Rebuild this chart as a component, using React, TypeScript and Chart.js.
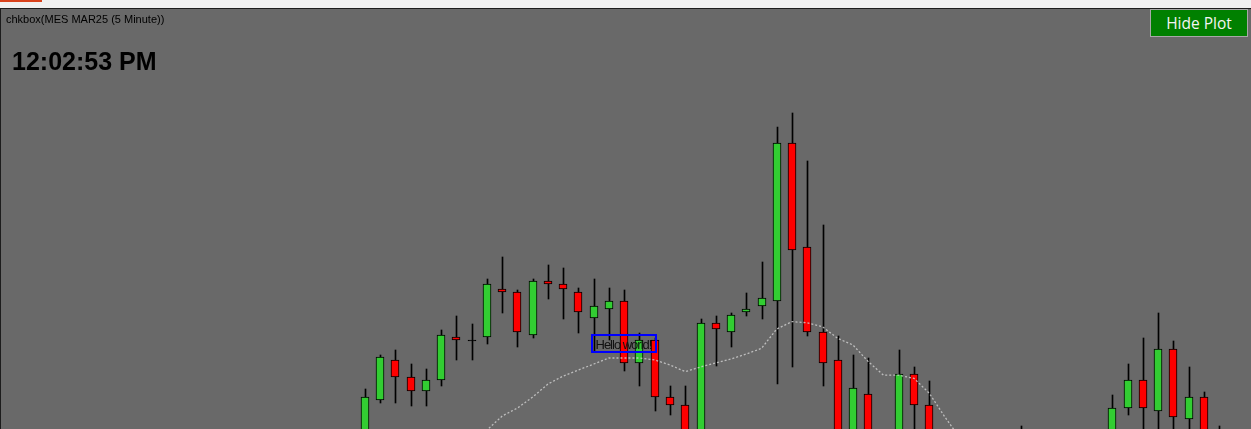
import React, { useEffect, useRef } from 'react';
import { Chart, registerables } from 'chart.js';

Chart.register(...registerables);

// ---- texts ----
const chartTitle = 'chkbox(MES MAR25 (5 Minute))';
const clockText = '12:02:53 PM';
const buttonText = 'Hide Plot';
const noteText = 'Hello world!';

// ---- 5-minute OHLC bars (bar index 0..56) ----
const opens = [
  6030, 6040, 6050, 6045.75, 6042.25, 6045, 6055.75, 6055, 6055.75, 6067.75,
  6067, 6056.25, 6069.75, 6069, 6067, 6060.5, 6062.75, 6064.75, 6049.25, 6055,
  6040.75, 6038.75, 6029.5, 6059.25, 6057, 6062, 6063.5, 6064.75, 6104.25, 6078.25,
  6057, 6050, 6028.5, 6041.5, 6028.25, 6026.25, 6046.5, 6038.75, 6028.75, 6024.5,
  6023, 6027.5, 6029, 6030, 6027, 6024.5, 6027.5, 6029.75, 6028.25, 6030,
  6038, 6045, 6037.25, 6052.75, 6035.25, 6040.75, 6030,
];
const highs = [
  6042.75, 6051.25, 6052.5, 6049, 6047.75, 6057.5, 6061, 6059, 6070.25, 6075.75,
  6067.5, 6070.25, 6073.75, 6073, 6068, 6070.25, 6068, 6067.5, 6056.75, 6055.5,
  6043.5, 6043.5, 6060.25, 6061, 6061.75, 6066.75, 6074.5, 6108.25, 6111.75, 6099.75,
  6083.75, 6056, 6051.25, 6050.5, 6032, 6052.5, 6048.25, 6044.75, 6031, 6028.75,
  6030, 6030.5, 6032, 6033.5, 6030, 6028.75, 6030.75, 6032, 6032.25, 6041.25,
  6049, 6055.5, 6061.75, 6054.75, 6048.25, 6042, 6033.5,
];
const lows = [
  6028.5, 6039.25, 6039.25, 6038.5, 6038.5, 6043.5, 6050, 6050, 6054, 6061.75,
  6053.25, 6055.5, 6065.25, 6060.25, 6056.75, 6052, 6055, 6047.25, 6043.5, 6037.25,
  6036.25, 6027, 6028.25, 6048.5, 6053.25, 6061, 6060.25, 6044, 6048.25, 6056,
  6043.5, 6027, 6026.25, 6024.5, 6022.5, 6025, 6030, 6026.25, 6022.5, 6020,
  6021.25, 6024.5, 6026.25, 6025.5, 6022.5, 6021.25, 6025, 6026.25, 6025, 6028.75,
  6036.25, 6030, 6030.5, 6031, 6030, 6027.5, 6026.25,
];
const closes = [
  6040.75, 6050.75, 6045.75, 6042.25, 6045, 6056.25, 6055, 6054.75, 6069, 6067,
  6057, 6069.75, 6069, 6067.75, 6062, 6063.5, 6064.75, 6049.25, 6055, 6040.75,
  6038.75, 6030, 6059.25, 6057.75, 6061.25, 6062.75, 6065.5, 6104.25, 6077.5, 6057,
  6049.25, 6030.5, 6043, 6028.25, 6025.5, 6046.5, 6038.75, 6028.75, 6024.5, 6023,
  6027.5, 6029, 6030, 6027, 6024.5, 6027.5, 6029.75, 6028.25, 6031, 6038,
  6045, 6038, 6052.75, 6035.75, 6040.75, 6030, 6028,
];
// moving average (null where not plotted)
const movingAvg: (number | null)[] = [
  null, null, null, null, null, null, null,
  6028.75, 6032.5, 6036, 6038, 6040.75, 6044, 6046, 6047.5, 6049, 6050.5,
  6050.5, 6050.5, 6050, 6048.75, 6047.1, 6048.25, 6049.25, 6050.25, 6051.5, 6052.9,
  6057.75, 6059.6, 6059.3, 6058.3, 6055.4, 6053.75, 6049.6, 6046.2, 6046.2, 6045.4,
  6041.7, 6035.9, 6030.5, 6028, 6027, 6026.5, 6026.5, 6026, 6026, 6026.5,
  6027, 6027.5, 6028.5, 6029.5, 6030, 6030, 6030.5, 6030.75, 6031, 6031,
];

// ---- visible window of the axes ----
const X_MIN = -23.934;
const X_MAX = 58.098;
const Y_MIN = 6032.75;
const Y_MAX = 6140;

const UP_COLOR = '#32CD32';
const DOWN_COLOR = '#FF0000';
const DOJI_COLOR = '#000000';

const snapPlugin = {
  id: 'snapCandles',
  afterDatasetsUpdate(chart: any) {
    chart.data.datasets.forEach((ds: any, di: number) => {
      if (ds.type !== 'bar') return;
      const meta = chart.getDatasetMeta(di);
      meta.data.forEach((el: any) => {
        el.x = ds.label === 'wicks' ? Math.round(el.x) + 0.5 : Math.round(el.x);
      });
    });
  },
};

export default function App() {
  const ref = useRef<HTMLCanvasElement>(null);

  useEffect(() => {
    document.body.style.margin = '0';
    const idx = opens.map((_, i) => i);
    const bodies = idx.map((i) => ({ x: i, y: [opens[i], closes[i]] }));
    const wicks = idx.map((i) => ({ x: i, y: [lows[i], highs[i]] }));
    const colors = idx.map((i) =>
      Math.abs(closes[i] - opens[i]) <= 0.25
        ? DOJI_COLOR
        : closes[i] >= opens[i]
        ? UP_COLOR
        : DOWN_COLOR
    );
    const maPts = idx
      .filter((i) => movingAvg[i] !== null)
      .map((i) => ({ x: i, y: movingAvg[i] as number }));

    const chart = new Chart(ref.current as HTMLCanvasElement, {
      type: 'bar',
      data: {
        datasets: [
          {
            type: 'line',
            label: 'ma',
            data: maPts,
            borderColor: 'rgba(205,205,205,0.85)',
            borderWidth: 1.3,
            borderDash: [2, 2],
            pointRadius: 0,
            tension: 0,
            fill: false,
            order: 0,
          } as any,
          {
            type: 'bar',
            label: 'bodies',
            data: bodies,
            backgroundColor: colors,
            borderColor: '#000000',
            borderWidth: 1,
            borderSkipped: false,
            barThickness: 8,
            grouped: false,
            order: 1,
          } as any,
          {
            type: 'bar',
            label: 'wicks',
            data: wicks,
            backgroundColor: '#000000',
            borderWidth: 0,
            barThickness: 1,
            grouped: false,
            order: 2,
          } as any,
        ],
      },
      options: {
        animation: false,
        responsive: false,
        maintainAspectRatio: false,
        events: [],
        layout: { padding: 0 },
        plugins: {
          legend: { display: false },
          tooltip: { enabled: false },
          title: { display: false },
        },
        scales: {
          x: { type: 'linear', min: X_MIN, max: X_MAX, display: false, offset: false },
          y: { type: 'linear', min: Y_MIN, max: Y_MAX, display: false },
        },
      },
      plugins: [snapPlugin],
    });
    return () => chart.destroy();
  }, []);

  const sans = '"Liberation Sans", Arial, sans-serif';

  return (
    <div
      style={{
        position: 'fixed',
        left: 0,
        top: 0,
        width: 1251,
        height: 429,
        overflow: 'hidden',
        background: '#696969',
        fontFamily: sans,
      }}
    >
      <canvas
        ref={ref}
        width={1251}
        height={429}
        style={{ position: 'absolute', left: 0, top: 0, width: 1251, height: 429 }}
      />
      {/* window strip */}
      <div style={{ position: 'absolute', left: 0, top: 0, width: 1251, height: 8, background: '#f0f0f0' }} />
      <div style={{ position: 'absolute', left: 0, top: 0, width: 42, height: 2, background: '#d9421c' }} />
      <div style={{ position: 'absolute', left: 0, top: 8, width: 1251, height: 1, background: '#1c1c1c' }} />
      <div style={{ position: 'absolute', left: 0, top: 9, width: 1, height: 420, background: '#1c1c1c' }} />

      <div
        style={{
          position: 'absolute',
          left: 6,
          top: 14,
          fontSize: 11,
          lineHeight: '11px',
          color: '#000',
          whiteSpace: 'nowrap',
        }}
      >
        {chartTitle}
      </div>
      <div
        style={{
          position: 'absolute',
          left: 12,
          top: 49,
          fontSize: 25,
          lineHeight: '25px',
          fontWeight: 'bold',
          color: '#000',
          whiteSpace: 'nowrap',
        }}
      >
        {clockText}
      </div>

      <div
        style={{
          position: 'absolute',
          left: 1150,
          top: 9,
          width: 96,
          height: 26,
          border: '1px solid #a8a8a8',
          background: '#008000',
          color: '#f4f4f4',
          fontFamily: '"Open Sans", "Noto Sans", sans-serif',
          fontSize: 15.5,
          lineHeight: '26px',
          textAlign: 'center',
          whiteSpace: 'nowrap',
        }}
      >
        {buttonText}
      </div>

      <div
        style={{
          position: 'absolute',
          left: 591,
          top: 334,
          width: 62,
          height: 15,
          border: '2px solid #0000ff',
        }}
      />
      <div
        style={{
          position: 'absolute',
          left: 595.5,
          top: 337.5,
          fontSize: 13,
          lineHeight: '13px',
          letterSpacing: '-1px',
          color: '#111',
          whiteSpace: 'nowrap',
        }}
      >
        {noteText}
      </div>
    </div>
  );
}
